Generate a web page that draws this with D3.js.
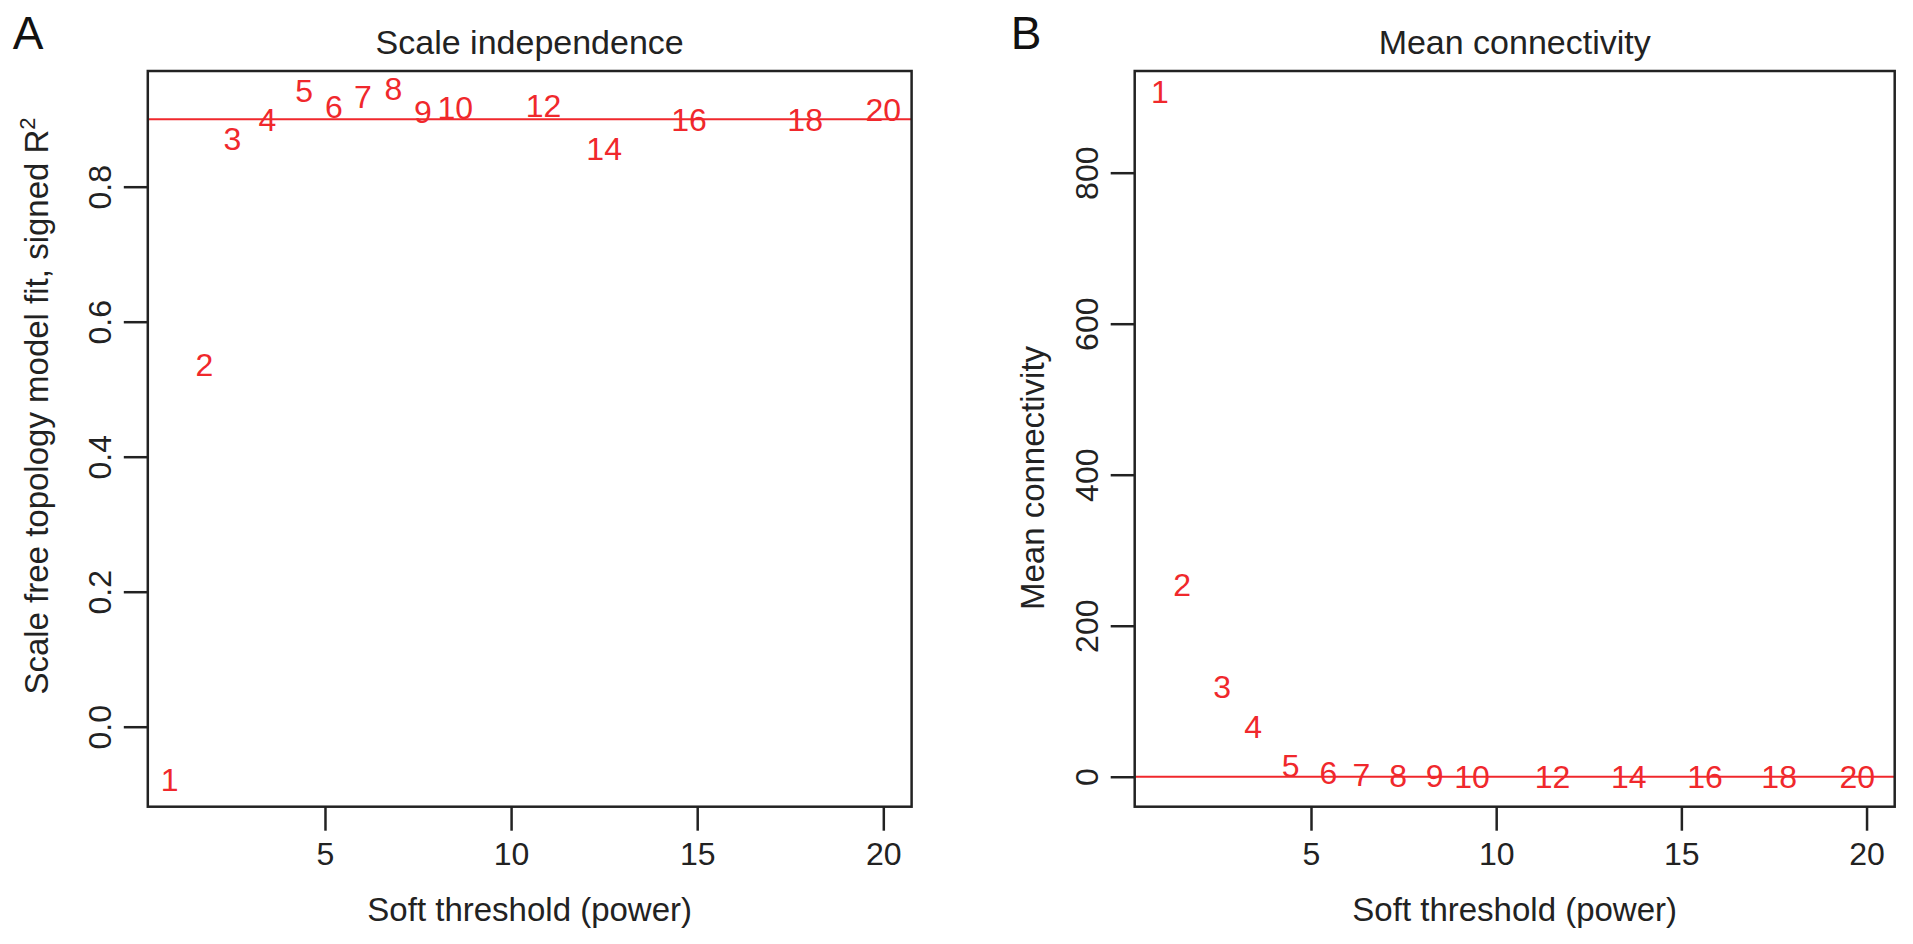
<!DOCTYPE html>
<html>
<head>
<meta charset="utf-8">
<script src="https://cdn.jsdelivr.net/npm/d3@7/dist/d3.min.js"></script>
<style>
  html, body { margin: 0; padding: 0; background: #fff; }
  svg { display: block; font-family: "Liberation Sans", Arial, Helvetica, sans-serif; }
</style>
</head>
<body>
<svg id="chart" width="1913" height="944"></svg>
<script>
// ---- data ----
const powers = [1, 2, 3, 4, 5, 6, 7, 8, 9, 10, 12, 14, 16, 18, 20];
// horizontal position (power axis units) where each label sits in panel A / B
const fitX  = [0.83, 1.76, 2.51, 3.45, 4.44, 5.24, 6.02, 6.84, 7.63, 8.5, 10.87, 12.5, 14.78, 17.9, 20.0];
const fitR2 = [-0.078, 0.537, 0.871, 0.900, 0.943, 0.919, 0.934, 0.945, 0.912, 0.917, 0.921, 0.856, 0.900, 0.900, 0.915];
const connX = [0.92, 1.52, 2.6, 3.44, 4.45, 5.47, 6.36, 7.35, 8.34, 9.35, 11.52, 13.58, 15.64, 17.64, 19.75];
const meanK = [908, 255, 120, 66, 15, 5.3, 2.5, 1.5, 1, 0.7, 0.3, 0.2, 0.1, 0.1, 0.05];
const xTicks  = [5, 10, 15, 20];
const yTicksA = [0.0, 0.2, 0.4, 0.6, 0.8];
const yTicksB = [0, 200, 400, 600, 800];
const xDomain  = [0.24, 20.76];
const yDomainA = [-0.1185, 0.9714];
const yDomainB = [-39.7, 934.7];
const cutA = 0.9;
const cutB = 0;

// ---- layout ----
const svg = d3.select("#chart");
svg.append("rect").attr("width", 1913).attr("height", 944).attr("fill", "#fff");
const RED = "#f0282c";
const INK = "#222";

const panels = [
  { letter: "A", title: "Scale independence", left: 147.8, right: 911.6,
    ylab: "Scale free topology model fit, signed R", sup: "2",
    xs: fitX, ys: fitR2, yDomain: yDomainA, yTicks: yTicksA, fmt: d3.format(".1f"), cut: cutA,
    letterX: 28, ylabX: 48, ylabY: 406 },
  { letter: "B", title: "Mean connectivity", left: 1134.7, right: 1894.7,
    ylab: "Mean connectivity", sup: null,
    xs: connX, ys: meanK, yDomain: yDomainB, yTicks: yTicksB, fmt: d3.format("d"), cut: cutB,
    letterX: 1026, ylabX: 1044, ylabY: 478 }
];
const plotTop = 71, plotBottom = 806.7;

panels.forEach(p => {
  const x = d3.scaleLinear().domain(xDomain).range([p.left, p.right]);
  const y = d3.scaleLinear().domain(p.yDomain).range([plotBottom, plotTop]);
  const g = svg.append("g");

  // reference line
  g.append("line")
    .attr("x1", p.left).attr("x2", p.right)
    .attr("y1", y(p.cut)).attr("y2", y(p.cut))
    .attr("stroke", RED).attr("stroke-width", 2);

  // labels as points
  g.selectAll("text.pt").data(powers).join("text")
    .attr("class", "pt")
    .attr("x", (d, i) => x(p.xs[i]))
    .attr("y", (d, i) => y(p.ys[i]))
    .attr("dy", "0.36em")
    .attr("text-anchor", "middle")
    .attr("fill", RED)
    .attr("font-size", 32)
    .text(d => d);

  // box
  g.append("rect")
    .attr("x", p.left).attr("y", plotTop)
    .attr("width", p.right - p.left).attr("height", plotBottom - plotTop)
    .attr("fill", "none").attr("stroke", INK).attr("stroke-width", 2.5);

  // x axis
  const xa = g.append("g").attr("transform", `translate(0,${plotBottom})`)
    .call(d3.axisBottom(x).tickValues(xTicks).tickSize(24).tickPadding(12).tickSizeOuter(0));
  xa.select(".domain").remove();
  xa.attr("font-family", null);
  xa.selectAll("line").attr("stroke", INK).attr("stroke-width", 2.5);
  xa.selectAll("text").attr("font-size", 32).attr("fill", INK);

  // y axis
  const ya = g.append("g").attr("transform", `translate(${p.left},0)`)
    .call(d3.axisLeft(y).tickValues(p.yTicks).tickFormat(p.fmt).tickSize(24).tickSizeOuter(0));
  ya.select(".domain").remove();
  ya.attr("font-family", null);
  ya.selectAll("line").attr("stroke", INK).attr("stroke-width", 2.5);
  ya.selectAll("text")
    .attr("x", null).attr("dy", null)
    .attr("transform", "translate(-37,0) rotate(-90)")
    .attr("text-anchor", "middle")
    .attr("font-size", 32).attr("fill", INK);

  // title
  svg.append("text")
    .attr("x", (p.left + p.right) / 2).attr("y", 54)
    .attr("text-anchor", "middle").attr("font-size", 34).attr("fill", INK)
    .text(p.title);

  // x label
  svg.append("text")
    .attr("x", (p.left + p.right) / 2).attr("y", 921)
    .attr("text-anchor", "middle").attr("font-size", 33).attr("fill", INK)
    .text("Soft threshold (power)");

  // y label
  const yl = svg.append("text")
    .attr("transform", `translate(${p.ylabX},${p.ylabY}) rotate(-90)`)
    .attr("text-anchor", "middle").attr("font-size", 33).attr("fill", INK)
    .text(p.ylab);
  if (p.sup) {
    yl.append("tspan").attr("font-size", 22).attr("dy", -13).text(p.sup);
  }

  // panel letter
  svg.append("text")
    .attr("x", p.letterX).attr("y", 49)
    .attr("text-anchor", "middle").attr("font-size", 46).attr("fill", "#111")
    .text(p.letter);
});
</script>
</body>
</html>
